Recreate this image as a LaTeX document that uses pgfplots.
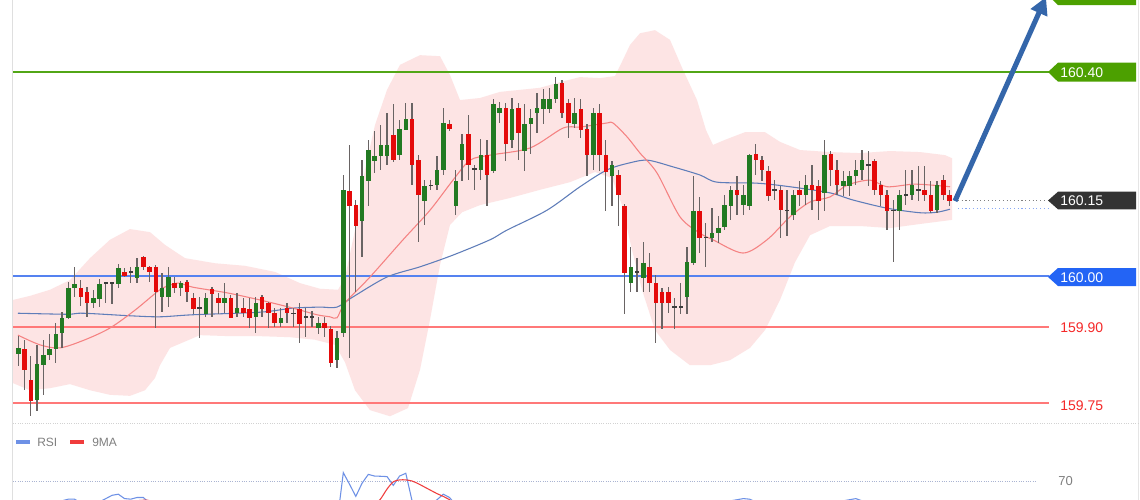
\documentclass[border=0pt]{standalone}
\usepackage{fontspec}
\setmainfont{Liberation Sans}
\usepackage{pgfplots}
\pgfplotsset{compat=1.18}
\usepackage{pgfplotstable}
\usetikzlibrary{arrows.meta}

\definecolor{upc}{RGB}{34,122,34}
\definecolor{dnc}{RGB}{228,10,10}
\definecolor{wickc}{RGB}{105,100,100}
\definecolor{dojic}{RGB}{60,60,60}
\definecolor{bandc}{RGB}{253,228,228}
\definecolor{maRed}{RGB}{245,130,130}
\definecolor{maBlue}{RGB}{95,125,185}
\definecolor{lvGreen}{RGB}{82,166,22}
\definecolor{lvBlue}{RGB}{85,130,240}
\definecolor{lvRed}{RGB}{255,120,120}
\definecolor{boxGreen}{RGB}{76,160,0}
\definecolor{boxDark}{RGB}{51,51,51}
\definecolor{boxBlue}{RGB}{35,100,245}
\definecolor{txtRed}{RGB}{245,40,40}
\definecolor{arrowBlue}{RGB}{52,102,170}
\definecolor{rsiBlue}{RGB}{110,145,230}
\definecolor{rsiRed}{RGB}{240,60,60}
\definecolor{lvl70}{RGB}{170,180,210}

% up candles
\pgfplotstableread{
i o h l c
0 159.847 159.884 159.824 159.859
3 159.757 159.867 159.737 159.827
4 159.827 159.875 159.767 159.847
5 159.847 159.886 159.835 159.857
6 159.859 159.908 159.829 159.888
7 159.888 159.929 159.859 159.918
8 159.918 159.988 159.916 159.978
9 159.978 160.018 159.959 159.986
12 159.947 159.973 159.939 159.957
13 159.957 159.994 159.939 159.986
16 159.986 160.025 159.978 160.018
19 159.998 160.037 159.988 160.018
23 159.959 160.006 159.929 159.976
24 159.959 160.018 159.939 159.998
26 159.978 159.992 159.963 159.988
30 159.927 159.967 159.920 159.957
33 159.947 159.986 159.927 159.957
35 159.927 159.967 159.920 159.937
38 159.920 159.959 159.888 159.947
42 159.908 159.937 159.900 159.918
48 159.900 159.920 159.888 159.908
51 159.835 159.894 159.820 159.878
52 159.888 160.198 159.880 160.169
55 160.108 160.227 160.037 160.198
56 160.188 160.267 160.139 160.249
57 160.227 160.286 160.202 160.237
58 160.237 160.298 160.208 160.257
59 160.237 160.320 160.218 160.257
61 160.237 160.306 160.227 160.288
62 160.288 160.339 160.288 160.308
65 160.149 160.188 160.100 160.178
67 160.178 160.237 160.169 160.208
68 160.208 160.329 160.198 160.300
70 160.139 160.208 160.120 160.188
71 160.229 160.280 160.188 160.259
74 160.208 160.269 160.188 160.237
76 160.208 160.349 160.204 160.339
77 160.320 160.341 160.300 160.329
79 160.267 160.349 160.251 160.329
81 160.247 160.339 160.208 160.300
82 160.300 160.329 160.241 160.310
83 160.320 160.359 160.280 160.329
84 160.329 160.369 160.300 160.349
85 160.329 160.369 160.320 160.349
86 160.349 160.390 160.339 160.378
89 160.300 160.349 160.290 160.320
92 160.237 160.329 160.208 160.320
95 160.198 160.227 160.139 160.218
98 159.988 160.057 159.969 160.018
100 159.998 160.067 159.969 160.027
107 159.959 160.057 159.927 160.027
108 160.027 160.198 160.022 160.129
111 160.076 160.135 160.067 160.086
112 160.086 160.120 160.067 160.096
113 160.096 160.159 160.090 160.139
114 160.139 160.178 160.110 160.169
116 160.139 160.178 160.120 160.159
117 160.139 160.239 160.129 160.239
124 160.120 160.169 160.110 160.159
126 160.159 160.198 160.139 160.178
129 160.163 160.267 160.129 160.239
132 160.178 160.208 160.159 160.188
133 160.178 160.208 160.159 160.198
134 160.198 160.227 160.178 160.208
135 160.208 160.247 160.188 160.227
141 160.129 160.169 160.090 160.159
143 160.159 160.208 160.149 160.178
147 160.129 160.188 160.124 160.178
}\upT

% down candles
\pgfplotstableread{
i o h l c
1 159.859 159.875 159.776 159.818
2 159.798 159.845 159.727 159.757
10 159.976 159.994 159.943 159.959
11 159.969 159.978 159.920 159.947
17 160.008 160.016 159.998 160.000
20 160.037 160.039 160.012 160.018
21 160.018 160.020 159.988 160.008
22 160.018 160.022 159.898 159.969
25 159.988 159.998 159.967 159.978
27 159.988 159.992 159.949 159.969
28 159.957 159.967 159.927 159.937
31 159.976 159.978 159.920 159.967
32 159.957 159.967 159.927 159.947
34 159.959 159.963 159.918 159.920
36 159.937 159.957 159.920 159.927
37 159.937 159.957 159.898 159.920
39 159.959 159.963 159.920 159.937
40 159.947 159.951 159.900 159.927
41 159.927 159.937 159.900 159.908
43 159.937 159.947 159.908 159.927
45 159.937 159.947 159.869 159.908
49 159.908 159.920 159.880 159.898
50 159.898 159.902 159.822 159.831
53 160.167 160.257 159.839 160.139
54 160.139 160.149 159.969 160.098
60 160.276 160.339 160.225 160.227
63 160.308 160.339 160.178 160.218
64 160.229 160.237 160.067 160.159
69 160.300 160.306 160.286 160.290
72 160.278 160.316 160.190 160.218
75 160.237 160.267 160.139 160.198
78 160.329 160.341 160.227 160.259
80 160.329 160.339 160.227 160.280
87 160.378 160.384 160.310 160.320
88 160.339 160.349 160.271 160.300
90 160.329 160.349 160.271 160.288
91 160.288 160.300 160.198 160.237
93 160.320 160.339 160.208 160.237
94 160.237 160.267 160.129 160.204
96 160.198 160.208 160.100 160.159
97 160.139 160.143 159.927 160.008
101 160.018 160.047 159.969 159.988
102 159.988 160.002 159.869 159.949
103 159.969 159.978 159.898 159.949
104 159.969 159.978 159.927 159.949
109 160.129 160.155 160.047 160.076
115 160.169 160.198 160.120 160.159
118 160.239 160.259 160.198 160.227
119 160.227 160.237 160.188 160.208
120 160.208 160.218 160.149 160.159
122 160.169 160.178 160.076 160.129
125 160.169 160.188 160.139 160.159
127 160.178 160.218 160.129 160.169
128 160.178 160.188 160.110 160.149
130 160.239 160.247 160.178 160.208
131 160.208 160.227 160.159 160.178
137 160.227 160.231 160.159 160.169
138 160.178 160.188 160.139 160.159
139 160.159 160.169 160.090 160.129
145 160.169 160.218 160.149 160.159
146 160.159 160.188 160.124 160.129
148 160.188 160.198 160.149 160.159
149 160.159 160.169 160.139 160.149
}\dnT

% doji candles
\pgfplotstableread{
i o h l c
14 159.986 159.988 159.947 159.986
15 159.986 159.988 159.945 159.986
18 160.008 160.018 159.988 160.008
29 159.937 159.959 159.878 159.937
44 159.927 159.937 159.900 159.927
46 159.920 159.937 159.880 159.920
47 159.920 159.931 159.900 159.920
66 160.178 160.188 160.169 160.178
73 160.210 160.218 160.169 160.210
99 160.008 160.037 159.969 160.008
105 159.939 159.959 159.898 159.939
106 159.939 159.988 159.927 159.939
110 160.076 160.104 160.018 160.076
121 160.169 160.188 160.149 160.169
123 160.129 160.169 160.078 160.129
136 160.218 160.247 160.178 160.218
140 160.129 160.149 160.027 160.129
142 160.159 160.208 160.139 160.159
144 160.169 160.218 160.149 160.169
}\djT

\pgfplotsset{
  wick/.style={draw=none, mark=none, forget plot,
    error bars/.cd, y dir=both, y explicit, error mark=none,
    error bar style={draw=wickc, line width=0.95pt}},
  body/.style={draw=none, mark=none, forget plot,
    error bars/.cd, y dir=both, y explicit, error mark=none,
    error bar style={draw=#1, line width=3.3pt}},
}

\begin{document}
\begin{tikzpicture}
\fill[white] (0pt,0pt) rectangle (855pt,-375pt);

\begin{axis}[at={(9.75pt,0pt)}, anchor=north west, scale only axis,
  width=845.25pt, height=318.75pt,
  xmin=-0.848, xmax=179.47, ymin=159.70784, ymax=160.54118,
  axis lines=none, clip=true]

% Bollinger band: upper band left to right, then lower band right to left
\addplot[fill=bandc, draw=none, forget plot] coordinates {
(-0.85,159.953) (1.87,159.961) (5.07,159.973) (8.27,159.992) (11.47,160.035)
(14.67,160.071) (17.87,160.092) (21.07,160.086) (23.47,160.061) (26.67,160.035)
(31.47,160.025) (36.27,160.020) (41.07,160.008) (45.07,159.986) (48.27,159.975)
(51.15,159.973) (52.27,159.996) (53.87,160.090) (55.47,160.208) (57.07,160.296)
(59.0,160.365) (61.07,160.414) (64.27,160.433) (67.47,160.431) (69.07,160.394)
(70.67,160.345) (73.87,160.349) (77.07,160.361) (80.27,160.365) (83.47,160.369)
(86.67,160.380) (89.87,160.390) (93.07,160.388) (95.47,160.392) (96.59,160.420)
(97.87,160.453) (99.47,160.476) (101.87,160.482) (104.27,160.463) (106.35,160.404)
(108.59,160.345) (110.03,160.286) (111.15,160.257) (113.07,160.267) (116.27,160.282)
(119.47,160.282) (121.87,160.263) (125.07,160.247) (129.87,160.243) (134.67,160.241)
(139.47,160.245) (144.27,160.243) (148.27,160.237) (149.39,160.231)
(149.39,160.110) (144.27,160.102) (139.47,160.094) (134.67,160.098) (129.87,160.098)
(126.67,160.080) (124.27,160.027) (121.87,159.953) (119.47,159.894) (117.07,159.859)
(113.87,159.835) (110.67,159.825) (107.47,159.825) (104.27,159.855) (101.87,159.894)
(99.79,159.973) (98.19,160.051) (96.59,160.139) (94.99,160.192) (92.27,160.204)
(88.27,160.184) (83.47,160.169) (78.67,160.153) (73.87,160.139) (70.99,160.125)
(69.07,160.100) (67.47,160.022) (65.87,159.914) (64.27,159.816) (62.35,159.741)
(59.47,159.725) (56.27,159.737) (53.87,159.776) (52.27,159.831) (50.67,159.865)
(47.47,159.875) (43.47,159.880) (38.67,159.882) (33.87,159.882) (29.07,159.884)
(24.27,159.859) (22.67,159.825) (21.87,159.800) (20.27,159.776) (17.87,159.765)
(14.67,159.767) (11.47,159.776) (8.27,159.788) (5.07,159.780) (1.87,159.776)
(-0.85,159.790)};

% levels
\addplot[lvGreen, line width=1.9pt, forget plot] coordinates {(-0.85,160.40) (164.9,160.40)};
\addplot[lvBlue, line width=1.5pt, forget plot] coordinates {(-0.85,160.00) (164.9,160.00)};
\addplot[lvRed, line width=1pt, forget plot] coordinates {(-0.85,159.90) (164.9,159.90)};
\addplot[lvRed, line width=1pt, forget plot] coordinates {(-0.85,159.751) (164.9,159.751)};

% moving averages
\addplot[maBlue, line width=0.8pt, smooth, forget plot] coordinates {
(-0.05,159.927) (7.79,159.925) (10.35,159.927) (17.87,159.922) (22.67,159.920)
(27.95,159.924) (38.67,159.929) (43.95,159.937) (48.27,159.939) (50.99,159.939)
(53.55,159.959) (58.99,159.998) (64.27,160.018) (69.55,160.041) (75.47,160.071)
(78.19,160.090) (84.59,160.129) (89.87,160.175) (94.19,160.208) (97.87,160.222)
(100.75,160.227) (104.75,160.214) (109.07,160.198) (111.79,160.184) (118.19,160.182)
(123.47,160.175) (129.87,160.163) (133.55,160.149) (138.99,160.133) (144.27,160.124)
(146.99,160.125) (149.07,160.131)};
\addplot[maRed, line width=0.8pt, smooth, forget plot] coordinates {
(-0.05,159.884) (3.47,159.865) (6.67,159.859) (10.67,159.875) (14.67,159.898)
(18.67,159.933) (22.67,159.973) (24.75,159.984) (25.87,159.986) (27.95,159.978)
(33.39,159.967) (38.67,159.953) (43.95,159.937) (47.79,159.924) (49.87,159.920)
(50.99,159.918) (52.27,159.947) (56.27,159.998) (61.55,160.071) (65.87,160.129)
(69.55,160.188) (72.27,160.227) (75.47,160.237) (81.87,160.251) (87.15,160.290)
(89.87,160.292) (94.19,160.300) (95.15,160.300) (97.39,160.273) (99.47,160.241)
(102.19,160.202) (105.87,160.116) (109.07,160.084) (111.15,160.071) (115.95,160.045)
(119.79,160.071) (123.47,160.116) (126.67,160.145) (129.87,160.155) (132.59,160.178)
(136.27,160.188) (138.99,160.175) (143.15,160.180) (146.35,160.178) (149.07,160.175)};

% wicks
\addplot[wick] table[x=i, y expr=(\thisrow{h}+\thisrow{l})/2, y error expr=(\thisrow{h}-\thisrow{l})/2] {\upT};
\addplot[wick] table[x=i, y expr=(\thisrow{h}+\thisrow{l})/2, y error expr=(\thisrow{h}-\thisrow{l})/2] {\dnT};
\addplot[wick] table[x=i, y expr=(\thisrow{h}+\thisrow{l})/2, y error expr=(\thisrow{h}-\thisrow{l})/2] {\djT};
% bodies
\addplot[body=upc] table[x=i, y expr=(\thisrow{o}+\thisrow{c})/2, y error expr={max(abs(\thisrow{c}-\thisrow{o})/2,0.0012)}] {\upT};
\addplot[body=dnc] table[x=i, y expr=(\thisrow{o}+\thisrow{c})/2, y error expr={max(abs(\thisrow{c}-\thisrow{o})/2,0.0012)}] {\dnT};
\addplot[body=dojic] table[x=i, y expr=\thisrow{o}, y error expr=0.0013] {\djT};
\end{axis}

% RSI panel
\begin{axis}[at={(9.75pt,-375pt)}, anchor=south west, scale only axis,
  width=845.25pt, height=33.75pt,
  xmin=-0.848, xmax=179.47, ymin=52.73, ymax=93.64,
  axis lines=none, clip=true]
\addplot[lvl70, densely dotted, line width=0.75pt, forget plot] coordinates {(-0.85,70) (162.8,70)};
\addplot[rsiBlue, line width=0.8pt, forget plot] coordinates {
(0,45) (3,40) (6,48) (7,52) (8,53.5) (9,53.5) (10,50) (12,47) (13,51) (14,54)
(15,57) (16,58) (17,54) (18,53.5) (19,55) (20,55) (21,50) (22,42) (25,45) (30,40)
(35,38) (40,36) (45,35) (50,30) (51,32) (52,77.6) (53,67) (54,56) (55,68) (56,76)
(57,74.5) (58,74.3) (59,74) (60,66) (61,74.5) (62,77) (63,52) (64,45) (66,48)
(67,53) (68,58) (69,55) (70,48) (75,50) (80,50) (85,52) (90,50) (95,45) (97,30)
(100,35) (105,33) (108,48) (112,50) (116,54) (117,53.5) (118,51) (120,47) (125,48)
(129,52) (130,50) (134,54) (135,52) (140,46) (145,50) (149,49)};
\addplot[rsiRed, line width=0.8pt, smooth, forget plot] coordinates {
(0,45) (10,47) (20,52.5) (22,50) (30,45) (40,40) (50,36) (55,42) (57,48) (58,54)
(59,62.7) (60,69.3) (61,71) (62,71) (63,70) (64,67.5) (65,64.5) (66,61.5)
(67,58.5) (68,56) (69,53) (70,50) (80,48) (90,50) (100,42) (110,40) (120,48)
(130,50) (140,50) (149,49)};
\end{axis}

\begin{scope}[x=0.75pt,y=-0.75pt]
% frame details
\draw[gray!25, line width=0.75pt] (12.5,0) -- (12.5,500);
\draw[gray!20, line width=0.75pt] (1138.5,0) -- (1138.5,500);
\draw[gray!35, densely dotted, line width=0.75pt] (13,423) -- (1138,423);

% last price guides
\draw[gray, dotted, line width=0.8pt] (958,200.5) -- (1048,200.5);
\draw[lvBlue!70, dotted, line width=0.8pt] (958,208.5) -- (1048,208.5);

% right labels
\fill[boxGreen] (1048,-4.5) -- (1058,-14) -- (1136,-14) -- (1136,5) -- (1058,5) -- cycle;
\fill[boxGreen] (1048,72) -- (1058,62.7) -- (1136,62.7) -- (1136,81.7) -- (1058,81.7) -- cycle;
\fill[boxDark] (1048,200.5) -- (1058,191.7) -- (1136,191.7) -- (1136,209.3) -- (1058,209.3) -- cycle;
\fill[boxBlue] (1048,277) -- (1058,268) -- (1136,268) -- (1136,286) -- (1058,286) -- cycle;
\begin{scope}[every node/.style={anchor=west, inner sep=0pt, font=\fontsize{10.5}{12}\selectfont}]
\node[text=white] at (1060,72.5) {160.40};
\node[text=white] at (1060,201) {160.15};
\node[text=white] at (1060,277.5) {160.00};
\node[text=txtRed] at (1060,328) {159.90};
\node[text=txtRed] at (1060,405.5) {159.75};
\end{scope}

% arrow
\draw[arrowBlue, line width=3.8pt, -{Triangle[length=13pt,width=13pt]}] (955,201) -- (1046,-3);

% RSI legend
\fill[rsiBlue] (16,440) rectangle (30,444);
\fill[rsiRed] (70,440) rectangle (84,444);
\node[anchor=west, inner sep=0pt, text=gray, font=\fontsize{9}{10}\selectfont] at (37,442.5) {RSI};
\node[anchor=west, inner sep=0pt, text=gray, font=\fontsize{9}{10}\selectfont] at (92,442.5) {9MA};
\node[anchor=west, inner sep=0pt, text=gray, font=\fontsize{9.75}{11}\selectfont] at (1058,481.5) {70};
\end{scope}

\pgfresetboundingbox
\useasboundingbox (0pt,0pt) rectangle (855pt,-375pt);
\end{tikzpicture}
\end{document}
